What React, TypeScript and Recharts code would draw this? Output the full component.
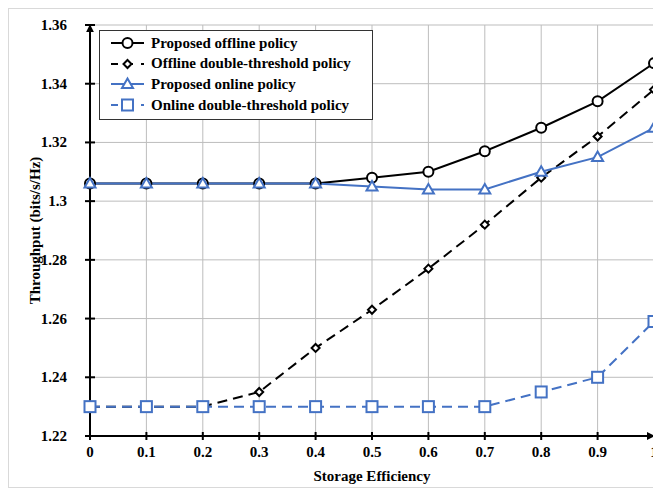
import { LineChart, Line, XAxis, YAxis, CartesianGrid, Legend } from "recharts";

const efficiency = [0, 0.1, 0.2, 0.3, 0.4, 0.5, 0.6, 0.7, 0.8, 0.9, 1];
const proposedOffline = [1.306, 1.306, 1.306, 1.306, 1.306, 1.308, 1.31, 1.317, 1.325, 1.334, 1.347];
const offlineDoubleThreshold = [1.23, 1.23, 1.23, 1.235, 1.25, 1.263, 1.277, 1.292, 1.308, 1.322, 1.338];
const proposedOnline = [1.306, 1.306, 1.306, 1.306, 1.306, 1.305, 1.304, 1.304, 1.31, 1.315, 1.325];
const onlineDoubleThreshold = [1.23, 1.23, 1.23, 1.23, 1.23, 1.23, 1.23, 1.23, 1.235, 1.24, 1.259];

const xTicks = [0, 0.1, 0.2, 0.3, 0.4, 0.5, 0.6, 0.7, 0.8, 0.9, 1];
const yTicks = [1.22, 1.24, 1.26, 1.28, 1.3, 1.32, 1.34, 1.36];

const FONT = "'Liberation Serif', 'Times New Roman', serif";
const BLUE = "#4472C4";

const data = efficiency.map((e, i) => ({
  eff: e,
  proposedOffline: proposedOffline[i],
  offlineDT: offlineDoubleThreshold[i],
  proposedOnline: proposedOnline[i],
  onlineDT: onlineDoubleThreshold[i],
}));

type Marker = "circle" | "diamond" | "triangle" | "square";

const MarkerShape = ({ kind, cx, cy, color }: { kind: Marker; cx: number; cy: number; color: string }) => {
  const common = { fill: "#fff", stroke: color, strokeWidth: 2 };
  if (kind === "circle") return <circle cx={cx} cy={cy} r={5} {...common} />;
  if (kind === "diamond")
    return <path d={`M${cx},${cy - 4}L${cx + 4},${cy}L${cx},${cy + 4}L${cx - 4},${cy}Z`} {...common} />;
  if (kind === "triangle")
    return <path d={`M${cx},${cy - 5.5}L${cx + 5.5},${cy + 4}L${cx - 5.5},${cy + 4}Z`} {...common} />;
  return <rect x={cx - 5.5} y={cy - 5.5} width={11} height={11} {...common} />;
};

const dotFor = (kind: Marker, color: string) => (props: any) => (
  <MarkerShape key={`${kind}-${props.index}`} kind={kind} cx={props.cx} cy={props.cy} color={color} />
);

const SERIES = [
  { key: "proposedOffline", name: "Proposed offline policy", color: "#000", dash: undefined, marker: "circle" as Marker },
  { key: "offlineDT", name: "Offline double-threshold policy", color: "#000", dash: "10 6", marker: "diamond" as Marker },
  { key: "proposedOnline", name: "Proposed online policy", color: BLUE, dash: undefined, marker: "triangle" as Marker },
  { key: "onlineDT", name: "Online double-threshold policy", color: BLUE, dash: "10 6", marker: "square" as Marker },
];

// crossing tick marks: tickSize is 0, so x/y sit tickMargin away from the axis line
const XTick = ({ x, y, payload }: any) => {
  const axisY = y - 12;
  return (
    <g>
      <line x1={x} x2={x} y1={axisY - 4} y2={axisY + 4} stroke="#000" strokeWidth={2} />
      <text x={x} y={axisY + 21} textAnchor="middle" fontFamily={FONT} fontWeight="bold" fontSize={15} fill="#000">
        {payload.value}
      </text>
    </g>
  );
};

const YTick = ({ x, y, payload }: any) => {
  const axisX = x + 23;
  return (
    <g>
      <line x1={axisX - 5} x2={axisX + 5} y1={y} y2={y} stroke="#000" strokeWidth={2} />
      <text x={x} y={y + 5} textAnchor="end" fontFamily={FONT} fontWeight="bold" fontSize={15} fill="#000">
        {payload.value}
      </text>
    </g>
  );
};

const LegendBox = () => (
  <div
    style={{
      width: 272,
      height: 86,
      border: "1px solid #333",
      background: "#fff",
      fontFamily: FONT,
      fontWeight: "bold",
      fontSize: 15,
      color: "#000",
      paddingTop: 2,
      boxSizing: "content-box",
    }}
  >
    {SERIES.map((s) => (
      <div key={s.key} style={{ display: "flex", alignItems: "center", height: 20.6, whiteSpace: "nowrap" }}>
        <svg width={51} height={20} style={{ flex: "none" }}>
          <line x1={11} x2={44} y1={10} y2={10} stroke={s.color} strokeWidth={2} strokeDasharray={s.dash ? "7 8" : undefined} />
          <MarkerShape kind={s.marker} cx={27.5} cy={10} color={s.color} />
        </svg>
        <span>{s.name}</span>
      </div>
    ))}
  </div>
);

export default function App() {
  return (
    <div style={{ width: 652, height: 480, border: "1px solid #d9d9d9", boxSizing: "border-box", background: "#fff" }}>
      <style>{".recharts-surface { overflow: visible; }"}</style>
      <svg width={0} height={0} style={{ position: "absolute" }}>
        <defs>
          <marker id="axisArrow" viewBox="0 0 10 10" refX="9" refY="5" markerWidth="4" markerHeight="4" orient="auto-start-reverse">
            <path d="M0,0L10,5L0,10Z" fill="#000" />
          </marker>
        </defs>
      </svg>
      <LineChart width={650} height={478} data={data} margin={{ top: 16, right: 5, bottom: 0, left: 0 }}>
        <CartesianGrid stroke="#bdbdbd" strokeWidth={1} verticalValues={xTicks} horizontalValues={yTicks} />
        <XAxis
          dataKey="eff"
          type="number"
          domain={[0, 1]}
          ticks={xTicks}
          height={51}
          tickSize={0}
          tickMargin={12}
          tickLine={false}
          tick={XTick}
          axisLine={{ stroke: "#000", strokeWidth: 2, markerEnd: "url(#axisArrow)" }}
          label={({ viewBox }: any) => (
            <text
              x={viewBox.x + viewBox.width / 2}
              y={viewBox.y + 45}
              textAnchor="middle"
              fontFamily={FONT}
              fontWeight="bold"
              fontSize={15}
              fill="#000"
            >
              Storage Efficiency
            </text>
          )}
        />
        <YAxis
          type="number"
          domain={[1.22, 1.36]}
          ticks={yTicks}
          width={81}
          tickSize={0}
          tickMargin={23}
          tickLine={false}
          tick={YTick}
          axisLine={{ stroke: "#000", strokeWidth: 2, markerStart: "url(#axisArrow)" }}
          label={({ viewBox }: any) => {
            const cx = viewBox.x + 26;
            const cy = viewBox.y + viewBox.height / 2;
            return (
              <text
                x={cx}
                y={cy}
                transform={`rotate(-90 ${cx} ${cy})`}
                textAnchor="middle"
                dominantBaseline="central"
                fontFamily={FONT}
                fontWeight="bold"
                fontSize={15}
                fill="#000"
              >
                Throughput (bits/s/Hz)
              </text>
            );
          }}
        />
        {SERIES.map((s) => (
          <Line
            key={s.key}
            dataKey={s.key}
            name={s.name}
            type="linear"
            stroke={s.color}
            strokeWidth={2}
            strokeDasharray={s.dash}
            dot={dotFor(s.marker, s.color)}
            activeDot={false}
            isAnimationActive={false}
          />
        ))}
        <Legend
          layout="horizontal"
          verticalAlign="middle"
          align="center"
          content={() => <LegendBox />}
          wrapperStyle={{ position: "absolute", left: 90, top: 21, width: "auto", height: "auto" }}
        />
      </LineChart>
    </div>
  );
}
